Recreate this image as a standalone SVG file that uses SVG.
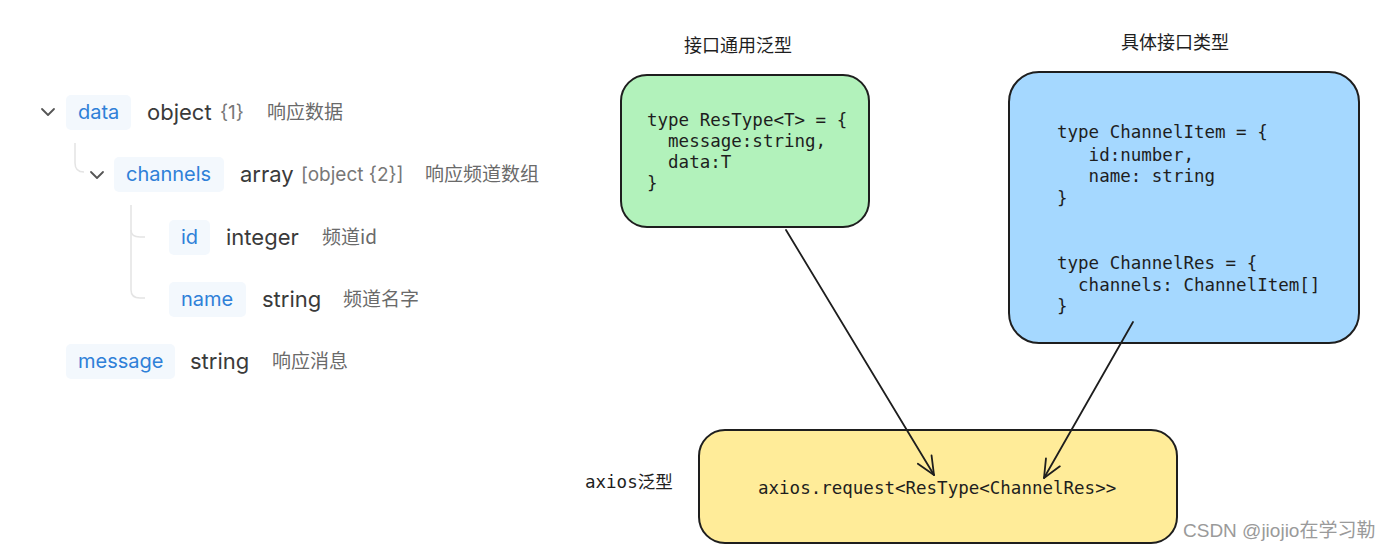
<svg xmlns="http://www.w3.org/2000/svg" width="1390" height="552" viewBox="0 0 1390 552">
<style>
.pill{fill:#f3f8fd}
.key{font-family:Inter,"Noto Sans","Noto Sans CJK SC",sans-serif;font-size:20px;fill:#2f80d8}
.type{font-family:Inter,"Noto Sans","Noto Sans CJK SC",sans-serif;font-size:22px;fill:#3a3a3a}
.sub{font-family:Inter,"Noto Sans","Noto Sans CJK SC",sans-serif;font-size:19px;fill:#777}
.desc{font-family:"Noto Sans CJK SC",sans-serif;font-size:19px;fill:#6a6a6a}
.tree{fill:none;stroke:#e4e4e4;stroke-width:1.5}
.chev{fill:none;stroke:#555;stroke-width:1.8;stroke-linecap:round;stroke-linejoin:round}
.code{font-family:"DejaVu Sans Mono",monospace;font-size:17.5px;fill:#1e1e1e;white-space:pre}
.title{font-family:"Noto Sans CJK SC",sans-serif;font-size:18px;fill:#1e1e1e}
.box{stroke:#1e1e1e;stroke-width:2}
.conn{fill:none;stroke:#1e1e1e;stroke-width:1.8;stroke-linecap:round}
</style>
<defs>
<marker id="arr" markerWidth="24" markerHeight="24" refX="20" refY="12" orient="auto" markerUnits="userSpaceOnUse">
<path d="M2,4 L20,12 L2,20" fill="none" stroke="#1e1e1e" stroke-width="1.8" stroke-linecap="round" stroke-linejoin="round"/>
</marker>
</defs>
<rect width="1390" height="552" fill="#ffffff"/>

<g id="schema-tree">
<path class="tree" d="M75,143 V163 Q75,172 84,172"/>
<path class="tree" d="M131,205 V290 Q131,298 140,298 H145"/>
<path class="tree" d="M131,230 Q131,237 140,237 H145"/>
</g>

<g id="node-data">
<path class="chev" d="M42,109 L48,115 L54,109"/>
<rect class="pill" x="66" y="95" width="65" height="35" rx="5"/>
<text class="key" x="78" y="119">data</text>
<text class="type" x="147" y="120">object</text>
<text class="sub" x="220" y="119">{1}</text>
<text class="desc" x="267" y="119">响应数据</text>
</g>

<g id="node-channels">
<path class="chev" d="M91,172 L97,178 L103,172"/>
<rect class="pill" x="114" y="157" width="110" height="35" rx="5"/>
<text class="key" x="126" y="181">channels</text>
<text class="type" x="240" y="182">array</text>
<text class="sub" x="301" y="181">[object {2}]</text>
<text class="desc" x="425" y="181">响应频道数组</text>
</g>

<g id="node-id">
<rect class="pill" x="169" y="220" width="41" height="35" rx="5"/>
<text class="key" x="181" y="244">id</text>
<text class="type" x="226" y="245">integer</text>
<text class="desc" x="322" y="244">频道id</text>
</g>

<g id="node-name">
<rect class="pill" x="169" y="282" width="77" height="35" rx="5"/>
<text class="key" x="181" y="306">name</text>
<text class="type" x="262" y="307">string</text>
<text class="desc" x="343" y="306">频道名字</text>
</g>

<g id="node-message">
<rect class="pill" x="66" y="344" width="109" height="35" rx="5"/>
<text class="key" x="78" y="368">message</text>
<text class="type" x="190" y="369">string</text>
<text class="desc" x="272" y="368">响应消息</text>
</g>

<g id="node-restype">
<text class="title" x="738" y="52" text-anchor="middle">接口通用泛型</text>
<rect class="box" x="621" y="75" width="248" height="152" rx="26" fill="#b2f2bb"/>
<text class="code" x="647" y="126">type ResType&lt;T&gt; = {</text>
<text class="code" x="647" y="147">  message:string,</text>
<text class="code" x="647" y="168">  data:T</text>
<text class="code" x="647" y="189">}</text>
</g>

<g id="node-channel-types">
<text class="title" x="1175" y="49" text-anchor="middle">具体接口类型</text>
<rect class="box" x="1009" y="72" width="350" height="271" rx="30" fill="#a5d8ff"/>
<text class="code" x="1057" y="138">type ChannelItem = {</text>
<text class="code" x="1057" y="161">   id:number,</text>
<text class="code" x="1057" y="182">   name: string</text>
<text class="code" x="1057" y="204">}</text>
<text class="code" x="1057" y="269">type ChannelRes = {</text>
<text class="code" x="1057" y="291">  channels: ChannelItem[]</text>
<text class="code" x="1057" y="312">}</text>
</g>

<g id="node-axios">
<text class="code" x="585" y="488">axios<tspan style="font-family:'Noto Sans CJK SC',sans-serif">泛型</tspan></text>
<rect class="box" x="699" y="430" width="478" height="113" rx="26" fill="#ffec99"/>
<text class="code" x="758" y="494">axios.request&lt;ResType&lt;ChannelRes&gt;&gt;</text>
</g>

<g id="connectors">
<path class="conn" d="M786,230 L934,475" marker-end="url(#arr)"/>
<path class="conn" d="M1133,322 L1044,478" marker-end="url(#arr)"/>
</g>

<text x="1183" y="537" style="font-family:'Liberation Sans','Noto Sans CJK SC',sans-serif;font-size:19px;fill:#9a9a9a">CSDN @jiojio在学习勒</text>
</svg>
